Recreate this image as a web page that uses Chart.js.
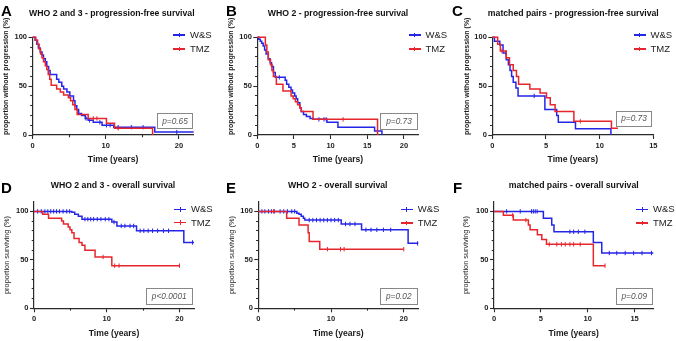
<!DOCTYPE html>
<html><head><meta charset="utf-8">
<script src="https://cdn.jsdelivr.net/npm/chart.js@4/dist/chart.umd.min.js"></script>
<style>
html,body{margin:0;padding:0;background:#fff;}
#wrap{position:relative;width:676px;height:341px;overflow:hidden;font-family:"Liberation Sans",Arial,sans-serif;background:#fff;}
.pane{position:absolute;}
.pane canvas{position:absolute;left:0;top:0;}
.lab{position:absolute;font-weight:bold;font-size:15px;line-height:15px;color:#000;}
.ttl{position:absolute;width:240px;text-align:center;font-weight:bold;font-size:8.7px;line-height:10px;color:#111;white-space:nowrap;}
.leg{position:absolute;height:10px;font-size:9.5px;line-height:10px;color:#222;white-space:nowrap;}
.leg i{position:absolute;left:0;top:4.3px;width:12px;height:1.5px;}
.leg i b{position:absolute;left:5.5px;top:-1.5px;width:1px;height:4.5px;background:inherit;}
.leg span{position:absolute;left:17px;top:0;}
.pbox{position:absolute;border:1px solid #888;font-style:italic;font-size:8.3px;color:#555;text-align:center;box-sizing:border-box;white-space:nowrap;}
</style></head>
<body><div id="wrap"></div>
<script>
// ---------- data ----------
// A: WHO 2 and 3 - progression-free survival
const A_WS_T  = [0, 0.35, 0.6, 0.8, 1.05, 1.3, 1.5, 1.75, 1.95, 2.2, 2.4, 3.3, 3.6, 4.0, 4.25, 4.7, 5.1, 5.6, 5.8, 6.05, 6.3, 6.7, 7.2, 7.6, 8.3, 9.5, 11.1, 16.7, 22];
const A_WS_S  = [100, 97, 93, 89, 85, 82, 78, 75, 70, 66, 62, 57, 54, 50, 47, 44, 40, 35, 30, 26, 22, 20, 17, 15, 13, 10, 8, 3, 3];
const A_TMZ_T = [0, 0.45, 0.7, 0.9, 1.1, 1.3, 1.5, 1.75, 1.95, 2.15, 2.35, 2.55, 3.3, 3.8, 4.25, 4.9, 5.2, 5.5, 5.8, 6.1, 7.6, 10.1, 11.2, 16.4];
const A_TMZ_S = [100, 97, 93, 88, 83, 79, 75, 71, 67, 62, 57, 51, 47, 44, 41, 38, 35, 31, 26, 21, 17, 12, 7, 0];
const A_WS_CENS  = [7.3, 7.8, 9.2, 10.1, 10.6, 11.7, 13.5, 15.1, 19.7];
const A_TMZ_CENS = [8.3, 8.8, 11.7];
// B: WHO 2 - progression-free survival
const B_WS_T  = [0, 0.2, 0.4, 0.6, 0.8, 1.0, 1.2, 1.5, 1.75, 1.95, 2.2, 2.45, 3.8, 4.0, 4.3, 4.6, 4.8, 5.1, 5.3, 5.5, 5.8, 6.0, 6.3, 6.7, 7.2, 7.6, 9.5, 11.0, 16.0, 17.0];
const B_WS_S  = [100, 98, 96, 94, 91, 87, 83, 78, 74, 70, 64, 59, 56, 52, 49, 46, 43, 40, 37, 33, 28, 24, 21, 19, 17, 16, 13, 8, 4, 0];
const B_TMZ_T = [0, 1.1, 1.3, 1.5, 1.8, 2.0, 2.2, 2.6, 3.5, 4.6, 4.9, 5.2, 5.5, 5.8, 6.0, 7.6, 16.4];
const B_TMZ_S = [100, 92, 85, 77, 72, 66, 60, 52, 45, 40, 37, 34, 31, 28, 24, 16, 0];
const B_WS_CENS  = [3.0, 8.4, 9.1, 9.4];
const B_TMZ_CENS = [11.7];
// C: matched pairs - progression-free survival
const C_WS_T  = [0, 0.2, 0.7, 1.0, 1.3, 1.5, 1.65, 1.8, 1.95, 2.2, 2.4, 4.9, 6.0, 6.15, 7.75, 11.05];
const C_WS_S  = [100, 96, 92, 84, 77, 72, 66, 60, 54, 48, 40, 26, 20, 13, 6.5, 0];
const C_TMZ_T = [0, 0.5, 0.75, 1.3, 1.6, 1.95, 2.25, 2.45, 3.5, 4.45, 5.05, 5.4, 5.85, 7.6, 11.1, 11.7];
const C_TMZ_S = [100, 93, 86, 79, 72, 66, 60, 52, 47, 43, 38, 31, 24, 14, 7, 7];
const C_WS_CENS  = [1.25, 3.9];
const C_TMZ_CENS = [0.9, 8.2];
// D: WHO 2 and 3 - overall survival
const D_WS_T  = [0, 5.2, 5.6, 6.1, 6.6, 10.7, 11.4, 14.1, 20.6, 22];
const D_WS_S  = [100, 99, 97, 95, 92, 89, 85, 80, 68, 68];
const D_TMZ_T = [0, 1.2, 2.0, 3.8, 4.05, 4.7, 4.95, 5.2, 5.5, 6.2, 6.6, 7.0, 8.4, 10.7, 20];
const D_TMZ_S = [100, 97, 93, 90, 87, 84, 81, 78, 72, 68, 65, 60, 53, 44, 44];
const D_WS_CENS  = [0.5, 1.0, 1.5, 1.9, 2.3, 2.7, 3.1, 3.5, 4.0, 4.5, 4.9, 7.0, 7.4, 7.8, 8.2, 8.7, 9.2, 9.8, 10.3, 11.0, 12.0, 12.5, 13.2, 13.7, 14.6, 15.1, 15.7, 16.3, 17.0, 17.8, 18.5, 21.8];
const D_TMZ_CENS = [9.5, 11.1, 11.7, 20];
// E: WHO 2 - overall survival
const E_WS_T  = [0, 5.3, 5.6, 5.9, 6.2, 6.4, 11.4, 14.2, 20.6, 22];
const E_WS_S  = [100, 98, 97, 95, 93, 91, 87, 81, 67, 67];
const E_TMZ_T = [0, 3.9, 5.6, 6.85, 7.0, 8.45, 20];
const E_TMZ_S = [100, 93, 86, 78, 69, 61, 61];
const E_WS_CENS  = [0.5, 0.9, 1.4, 1.8, 2.2, 3.0, 3.5, 4.0, 4.6, 5.0, 7.0, 7.5, 8.0, 8.5, 9.0, 9.5, 10.0, 10.5, 11.0, 12.0, 12.6, 13.3, 14.8, 15.5, 16.3, 17.2, 18.2, 21.9];
const E_TMZ_CENS = [2.1, 9.5, 11.3, 11.8, 20];
// F: matched pairs - overall survival
const F_WS_T  = [0, 5.27, 6.16, 6.4, 10.6, 11.5, 17];
const F_WS_S  = [100, 93, 86, 79, 68, 57, 57];
const F_TMZ_T = [0, 1.0, 2.06, 3.67, 3.85, 4.63, 5.1, 5.6, 10.6, 11.85];
const F_TMZ_S = [100, 96, 91, 86, 81, 76, 71, 66, 44, 44];
const F_WS_CENS  = [1.35, 2.8, 4.0, 4.2, 4.4, 4.6, 8.1, 8.5, 9.0, 9.7, 12.3, 13.1, 14.0, 14.9, 15.8, 16.8];
const F_TMZ_CENS = [2.0, 3.4, 5.9, 6.7, 7.2, 7.6, 8.1, 8.5, 9.2, 11.85];

// tick labels
const X_TICKS_WIDE   = [0, 10, 20];
const X_MINOR_WIDE   = [5, 15];
const X_TICKS_FIVE20 = [0, 5, 10, 15, 20];
const X_TICKS_FIVE15 = [0, 5, 10, 15];
const Y_TICKS_MAJOR  = [0, 50, 100];
const Y_TICKS_MINOR  = [10, 20, 30, 40, 60, 70, 80, 90];
const SERIES_NAMES = ['W&S', 'TMZ'];
const P_VALUES = ['p=0.65', 'p=0.73', 'p=0.73', 'p<0.0001', 'p=0.02', 'p=0.09'];
const TITLES = ['WHO 2 and 3 - progression-free survival', 'WHO 2 - progression-free survival', 'matched pairs - progression-free survival',
                'WHO 2 and 3 - overall survival', 'WHO 2 - overall survival', 'matched pairs - overall survival'];
const LETTERS = ['A', 'B', 'C', 'D', 'E', 'F'];
const Y_TITLES = ['proportion without progression (%)', 'proportion surviving (%)'];
const X_TITLE = 'Time (years)';

// ---------- styling / layout ----------
const BLUE = '#2525e8';
const RED = '#e6262c';
const AX = '#2a2a2a';
Chart.defaults.font.family = '"Liberation Sans", Arial, sans-serif';

const panels = [
  {left:0,   top:0,   w:225, h:170, ca:{l:32.5, r:193.6, t:37.3, b:135},   xmax:22, ymax:100, xt:X_TICKS_WIDE,   xm:X_MINOR_WIDE, yt:0, yAlign:'start',  yPad:1.8,  xPad:5.6,
   ws:[A_WS_T,A_WS_S], tmz:[A_TMZ_T,A_TMZ_S], wsC:A_WS_CENS, tmzC:A_TMZ_CENS,
   lab:[1,3], ttl:[111.8,8], leg:[173,35,49], pb:[157,113,36,16]},
  {left:225, top:0,   w:225, h:170, ca:{l:32.3, r:193.6, t:37.3, b:135},   xmax:22, ymax:100, xt:X_TICKS_FIVE20, xm:[],           yt:0, yAlign:'start',  yPad:1.8,  xPad:5.6,
   ws:[B_WS_T,B_WS_S], tmz:[B_TMZ_T,B_TMZ_S], wsC:B_WS_CENS, tmzC:B_TMZ_CENS,
   lab:[226,3], ttl:[338,8], leg:[408.5,35,49], pb:[380,113,38,16.5]},
  {left:450, top:0,   w:226, h:170, ca:{l:42.3, r:203.3, t:37.3, b:135},   xmax:15, ymax:100, xt:X_TICKS_FIVE15, xm:[],           yt:0, yAlign:'start',  yPad:12.5, xPad:5.6,
   ws:[C_WS_T,C_WS_S], tmz:[C_TMZ_T,C_TMZ_S], wsC:C_WS_CENS, tmzC:C_TMZ_CENS,
   lab:[452,3], ttl:[573.3,8], leg:[633.5,35,49], pb:[616,111,36,15.5]},
  {left:0,   top:170, w:225, h:171, ca:{l:34,   r:194,   t:31.7, b:138.3}, xmax:22, ymax:110, xt:X_TICKS_WIDE,   xm:X_MINOR_WIDE, yt:1, yAlign:'center', yPad:2.2,  xPad:2.6,
   ws:[D_WS_T,D_WS_S], tmz:[D_TMZ_T,D_TMZ_S], wsC:D_WS_CENS, tmzC:D_TMZ_CENS,
   lab:[1,180], ttl:[113,180], leg:[174,209.3,222.7], pb:[146,288,46.5,17]},
  {left:225, top:170, w:225, h:171, ca:{l:33.3, r:193.3, t:31.7, b:138.3}, xmax:22, ymax:110, xt:X_TICKS_WIDE,   xm:X_MINOR_WIDE, yt:1, yAlign:'center', yPad:2.2,  xPad:2.6,
   ws:[E_WS_T,E_WS_S], tmz:[E_TMZ_T,E_TMZ_S], wsC:E_WS_CENS, tmzC:E_TMZ_CENS,
   lab:[226,180], ttl:[337.8,180], leg:[400.7,209.3,223], pb:[380,288,37.5,17]},
  {left:450, top:170, w:226, h:171, ca:{l:44,   r:203.3, t:31.7, b:138.3}, xmax:17, ymax:110, xt:X_TICKS_FIVE15, xm:[],           yt:1, yAlign:'center', yPad:11.5, xPad:2.6,
   ws:[F_WS_T,F_WS_S], tmz:[F_TMZ_T,F_TMZ_S], wsC:F_WS_CENS, tmzC:F_TMZ_CENS,
   lab:[453,180], ttl:[573.7,180], leg:[636,209.3,223], pb:[616,288,36.5,17]}
];

function toXY(T, S) { return T.map((t, i) => ({x: t, y: S[i]})); }
function survAt(T, S, t) { let v = S[0]; for (let i = 0; i < T.length; i++) { if (T[i] <= t) v = S[i]; } return v; }
function cens(T, S, C) { return C.map(t => ({x: t, y: survAt(T, S, t)})); }

const wrap = document.getElementById('wrap');
function el(cls, css, html) { const d = document.createElement('div'); d.className = cls; Object.assign(d.style, css); if (html !== undefined) d.textContent = html; wrap.appendChild(d); return d; }

panels.forEach((p, k) => {
  const pane = el('pane', {left:p.left+'px', top:p.top+'px', width:p.w+'px', height:p.h+'px'});
  const cv = document.createElement('canvas');
  cv.width = p.w; cv.height = p.h; cv.style.width = p.w+'px'; cv.style.height = p.h+'px';
  pane.appendChild(cv);

  const lineDs = (pts, col, ord) => ({data: pts, borderColor: col, backgroundColor: col, borderWidth: 1.5, stepped: true, pointRadius: 0, fill: false, clip: false, order: ord});
  const censDs = (pts, col, ord) => ({data: pts, borderColor: col, backgroundColor: col, showLine: false, pointStyle: 'line', pointRotation: 90, pointRadius: 2.2, pointBorderWidth: 1, clip: false, order: ord});

  const tickGrid = (len) => ({display: true, drawOnChartArea: false, drawTicks: true, tickLength: len, tickColor: AX, tickWidth: 1.1});

  new Chart(cv, {
    type: 'line',
    data: {datasets: [
      censDs(cens(p.tmz[0], p.tmz[1], p.tmzC), RED, 0),
      lineDs(toXY(p.tmz[0], p.tmz[1]), RED, 1),
      censDs(cens(p.ws[0], p.ws[1], p.wsC), BLUE, 2),
      lineDs(toXY(p.ws[0], p.ws[1]), BLUE, 3)
    ]},
    options: {
      responsive: false, maintainAspectRatio: false, animation: false, devicePixelRatio: 1,
      layout: {padding: {left: 0, top: p.ca.t, right: p.w - p.ca.r, bottom: 0}},
      plugins: {legend: {display: false}, tooltip: {enabled: false}},
      events: [],
      scales: {
        x: {type: 'linear', position: 'bottom', min: 0, max: p.xmax, weight: 1,
            afterBuildTicks: s => { s.ticks = p.xt.map(v => ({value: v})); },
            afterFit: s => { s.height = p.h - p.ca.b; },
            ticks: {font: {size: 7.5, weight: 'bold'}, color: '#222', padding: 2, maxRotation: 0, autoSkip: false},
            grid: tickGrid(4),
            border: {display: true, color: AX, width: 1.2},
            title: {display: true, text: X_TITLE, font: {size: 8.6, weight: 'bold'}, color: '#1a1a1a', padding: {top: 0, bottom: p.xPad}}},
        xMinor: {type: 'linear', position: 'bottom', min: 0, max: p.xmax, weight: 0, display: p.xm.length > 0,
            afterBuildTicks: s => { s.ticks = p.xm.map(v => ({value: v})); },
            afterFit: s => { s.height = 0; },
            ticks: {display: false}, grid: tickGrid(2.3), border: {display: false}, title: {display: false}},
        y: {type: 'linear', position: 'left', min: 0, max: p.ymax, weight: 1,
            afterBuildTicks: s => { s.ticks = Y_TICKS_MAJOR.map(v => ({value: v})); },
            afterFit: s => { s.width = p.ca.l; },
            ticks: {font: {size: 7.5, weight: 'bold'}, color: '#222', padding: 1.5},
            grid: tickGrid(4),
            border: {display: true, color: AX, width: 1.2},
            title: {display: true, text: Y_TITLES[p.yt], align: p.yAlign, color: '#1a1a1a',
                    font: {size: p.yt === 0 ? 7 : 7.4, weight: p.yt === 0 ? 'bold' : 'normal'}, padding: {top: p.yPad, bottom: 0}}},
        yMinor: {type: 'linear', position: 'left', min: 0, max: p.ymax, weight: 0,
            afterBuildTicks: s => { s.ticks = Y_TICKS_MINOR.map(v => ({value: v})); },
            afterFit: s => { s.width = 0; },
            ticks: {display: false}, grid: tickGrid(2.3), border: {display: false}, title: {display: false}}
      }
    }
  });

  // panel letter, title, legend, p-value box
  el('lab', {left: p.lab[0]+'px', top: p.lab[1]+'px'}, LETTERS[k]);
  el('ttl', {left: (p.ttl[0]-120)+'px', top: p.ttl[1]+'px'}, TITLES[k]);
  [[BLUE, p.leg[1]], [RED, p.leg[2]]].forEach(([col, y], j) => {
    const lg = el('leg', {left: p.leg[0]+'px', top: (y-5)+'px'});
    const ln = document.createElement('i'); ln.style.background = col;
    const tk = document.createElement('b'); ln.appendChild(tk);
    const sp = document.createElement('span'); sp.textContent = SERIES_NAMES[j];
    lg.appendChild(ln); lg.appendChild(sp);
  });
  el('pbox', {left: p.pb[0]+'px', top: p.pb[1]+'px', width: p.pb[2]+'px', height: p.pb[3]+'px', lineHeight: (p.pb[3]-2)+'px'}, P_VALUES[k]);
});
</script>
</body></html>
